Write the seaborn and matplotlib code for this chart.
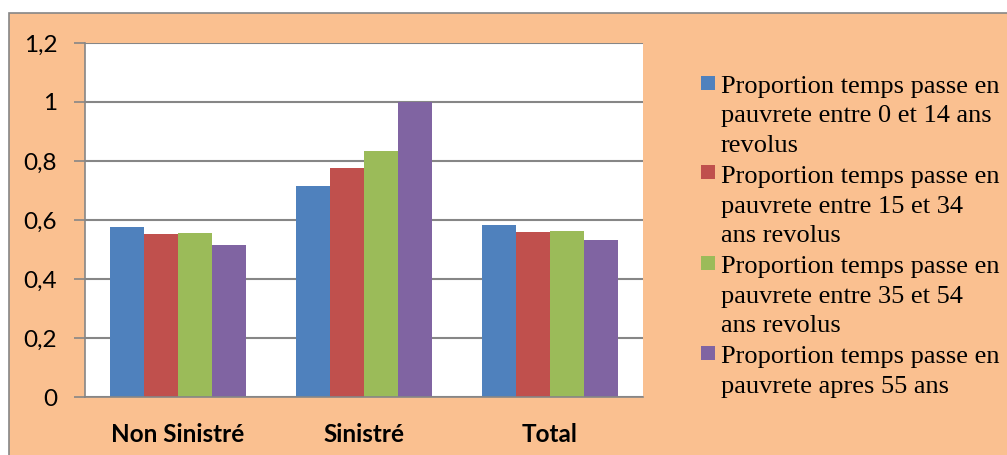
import matplotlib
matplotlib.use("Agg")
import matplotlib.pyplot as plt
from matplotlib.patches import Rectangle
import pandas as pd
import seaborn as sns

# Data
categories = ["Non Sinistré", "Sinistré", "Total"]
series_labels = [
    "Proportion temps passe en\npauvrete entre 0 et 14 ans\nrevolus",
    "Proportion temps passe en\npauvrete entre 15 et 34\nans revolus",
    "Proportion temps passe en\npauvrete entre 35 et 54\nans revolus",
    "Proportion temps passe en\npauvrete apres 55 ans",
]
age_0_14 = [0.575, 0.716, 0.582]
age_15_34 = [0.554, 0.777, 0.560]
age_35_54 = [0.555, 0.834, 0.563]
age_55_plus = [0.516, 1.000, 0.532]
y_ticks = [0.0, 0.2, 0.4, 0.6, 0.8, 1.0, 1.2]
y_tick_labels = ["0", "0,2", "0,4", "0,6", "0,8", "1", "1,2"]

colors = ["#4F81BD", "#C0504D", "#9BBB59", "#8064A2"]
bg = "#FAC090"
line_grey = "#868686"

series_values = [age_0_14, age_15_34, age_35_54, age_55_plus]
rows = []
for label, values in zip(series_labels, series_values):
    for cat, v in zip(categories, values):
        rows.append({"categorie": cat, "serie": label, "valeur": v})
df = pd.DataFrame(rows)

sns.set_theme(style="white")
W, H = 1007, 455
fig = plt.figure(figsize=(W / 100, H / 100), dpi=100, facecolor="white")

# Chart area background with border
fig.patches.append(Rectangle((8.5 / W, -0.1), 1.2, 1.1 - 13.5 / H,
                             transform=fig.transFigure, facecolor=bg,
                             edgecolor=line_grey, linewidth=1.2, zorder=-5))

ax = fig.add_axes([85 / W, 1 - 397 / H, (643 - 85) / W, (397 - 43) / H])
ax.set_zorder(2)
ax.set_facecolor("white")

sns.barplot(data=df, x="categorie", y="valeur", hue="serie",
            order=categories, hue_order=series_labels, palette=colors,
            saturation=1, width=0.726, gap=0, legend=False,
            edgecolor="none", linewidth=0, ax=ax, errorbar=None)

ax.set_xlim(-0.5, 2.5)
ax.set_ylim(0, 1.2)
ax.set_yticks(y_ticks)
ax.set_yticklabels(y_tick_labels, fontfamily="Lato", fontsize=17.5, color="black")
ax.set_xticks(range(len(categories)))
ax.set_xticklabels(categories, fontfamily="Lato", fontweight="bold",
                   fontsize=17.5, color="black")
ax.set_xticks([-0.5, 0.5, 1.5, 2.5], minor=True)
ax.tick_params(axis="x", which="major", length=0, pad=19)
ax.tick_params(axis="x", which="minor", length=8, width=1.2,
               color=line_grey, direction="out")
ax.tick_params(axis="y", which="major", length=8, width=1.2,
               color=line_grey, direction="out", pad=12, left=True)
ax.set_xlabel("")
ax.set_ylabel("")

ax.yaxis.grid(True, color=line_grey, linewidth=1.5)
ax.xaxis.grid(False)
ax.set_axisbelow(True)
for side in ["top", "right"]:
    ax.spines[side].set_visible(False)
for side in ["left", "bottom"]:
    ax.spines[side].set_color(line_grey)
    ax.spines[side].set_linewidth(1.2)

# Legend: square markers aligned with the first line of each entry
line_h = 30
y_base = 92.5
line_idx = 0
for color, label in zip(colors, series_labels):
    lines = label.split("\n")
    top_baseline = y_base + line_idx * line_h
    fig.patches.append(Rectangle((700.5 / W, 1 - (top_baseline - 3) / H),
                                 14 / W, 14 / H, transform=fig.transFigure,
                                 facecolor=color, edgecolor="none", zorder=3))
    for k, text in enumerate(lines):
        yb = y_base + (line_idx + k) * line_h
        fig.text(721 / W, 1 - yb / H, text, fontfamily="Liberation Serif",
                 fontsize=19, color="black", ha="left", va="baseline")
    line_idx += len(lines)

fig.savefig("out.png", dpi=100, facecolor="white")
